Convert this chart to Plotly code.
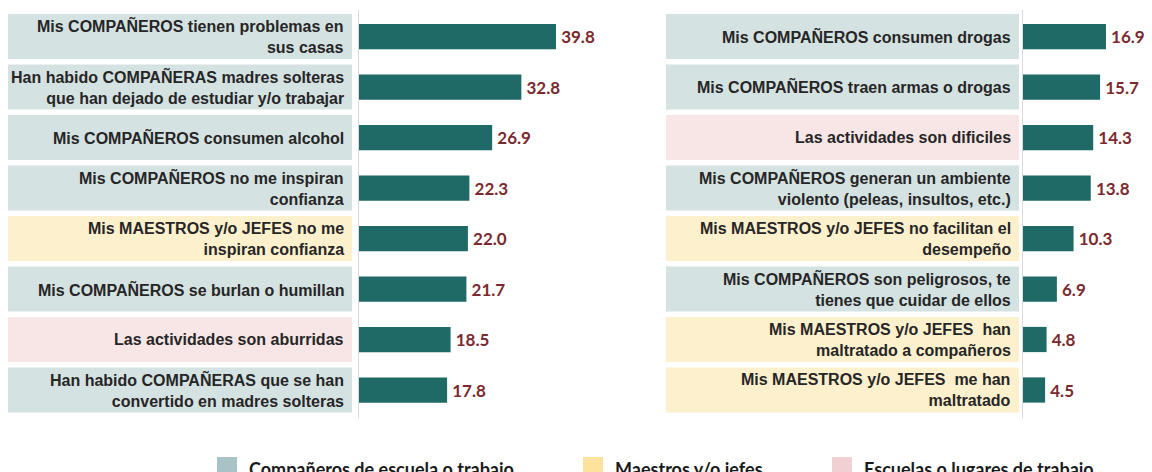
import plotly.graph_objects as go

# page body adds an 8px offset; figure is sized to fit the window
OFF = 8
W, H = 1152 - OFF, 472 - OFF

# ---- data ----
left_labels = [
    "Mis COMPAÑEROS tienen problemas en<br>sus casas",
    "Han habido COMPAÑERAS madres solteras<br>que han dejado de estudiar y/o trabajar",
    "Mis COMPAÑEROS consumen alcohol",
    "Mis COMPAÑEROS no me inspiran<br>confianza",
    "Mis MAESTROS y/o JEFES no me<br>inspiran confianza",
    "Mis COMPAÑEROS se burlan o humillan",
    "Las actividades son aburridas",
    "Han habido COMPAÑERAS que se han<br>convertido en madres solteras",
]
left_values = [39.8, 32.8, 26.9, 22.3, 22.0, 21.7, 18.5, 17.8]
left_groups = ["c", "c", "c", "c", "m", "c", "e", "c"]

right_labels = [
    "Mis COMPAÑEROS consumen drogas",
    "Mis COMPAÑEROS traen armas o drogas",
    "Las actividades son dificiles",
    "Mis COMPAÑEROS generan un ambiente<br>violento (peleas, insultos, etc.)",
    "Mis MAESTROS y/o JEFES no facilitan el<br>desempeño",
    "Mis COMPAÑEROS son peligrosos, te<br>tienes que cuidar de ellos",
    "Mis MAESTROS y/o JEFES  han<br>maltratado a compañeros",
    "Mis MAESTROS y/o JEFES  me han<br>maltratado",
]
right_values = [16.9, 15.7, 14.3, 13.8, 10.3, 6.9, 4.8, 4.5]
right_groups = ["c", "c", "e", "c", "m", "c", "m", "m"]

legend_keys = ["c", "m", "e"]
legend_names = ["Compañeros de escuela o trabajo", "Maestros y/o jefes", "Escuelas o lugares de trabajo"]

# ---- styles ----
BAR = "#1F6A66"
VAL = "#7A2A2E"
BOX = {"c": "#D5E2E2", "m": "#FDF0CD", "e": "#F8E6E7"}
LEG = {"c": "#A8C3C5", "m": "#FCE29C", "e": "#F0D0D3"}

def px(x):
    # screen pixel -> paper fraction
    return (x - OFF) / W

def py(y):
    return 1 - (y - OFF) / H

ydom = [py(418), py(10)]
yrange = [(418 - 36.5) / 50.5, (10 - 36.5) / 50.5]

fig = go.Figure()

val_font = dict(family="Lato", size=17, color=VAL, weight="bold")

fig.add_trace(go.Bar(
    x=left_values, y=list(range(len(left_values))), orientation="h",
    marker=dict(color=BAR, line=dict(width=0)), width=0.5,
    text=[f"\u2009{v:.1f}" for v in left_values], textposition="outside",
    textfont=val_font, cliponaxis=False, xaxis="x", yaxis="y", showlegend=False,
))
fig.add_trace(go.Bar(
    x=right_values, y=list(range(len(right_values))), orientation="h",
    marker=dict(color=BAR, line=dict(width=0)), width=0.5,
    text=[f"\u2009{v:.1f}" for v in right_values], textposition="outside",
    textfont=val_font, cliponaxis=False, xaxis="x2", yaxis="y2", showlegend=False,
))

shapes = []
annotations = []

def add_panel(labels, groups, yref, bx0, bx1, tx):
    for i, (lab, g) in enumerate(zip(labels, groups)):
        shapes.append(dict(type="rect", xref="paper", yref=yref,
                           x0=px(bx0), x1=px(bx1), y0=i - 0.445, y1=i + 0.445,
                           fillcolor=BOX[g], line=dict(width=0), layer="below"))
        annotations.append(dict(xref="paper", yref=yref, x=px(tx), y=i,
                                text=lab, showarrow=False, xanchor="right",
                                yanchor="middle", align="right",
                                font=dict(family="Liberation Sans", size=16,
                                          color="#262626", weight="bold")))

add_panel(left_labels, left_groups, "y", 8, 352, 346)
add_panel(right_labels, right_groups, "y2", 666, 1019, 1013)

leg_x = [217, 583, 832]
for k, name, x in zip(legend_keys, legend_names, leg_x):
    shapes.append(dict(type="rect", xref="paper", yref="paper",
                       x0=px(x), x1=px(x + 20), y0=py(480), y1=py(457),
                       fillcolor=LEG[k], line=dict(width=0)))
    annotations.append(dict(xref="paper", yref="paper", x=px(x + 30), y=py(469),
                            text=name, showarrow=False, xanchor="left",
                            yanchor="middle",
                            font=dict(family="Lato", size=18, color="#1A1A1A",
                                      weight="bold")))

axis_common = dict(showgrid=False, zeroline=False, showticklabels=False, ticks="",
                   fixedrange=True)

fig.update_layout(
    width=W, height=H,
    margin=dict(l=0, r=0, t=0, b=0),
    paper_bgcolor="white", plot_bgcolor="rgba(0,0,0,0)",
    xaxis=dict(domain=[px(359), px(620)], range=[0, (620 - 359) / 4.95], **axis_common),
    yaxis=dict(domain=ydom, range=yrange, anchor="x", showline=True,
               linecolor="#DADADA", linewidth=1, **axis_common),
    xaxis2=dict(domain=[px(1023), 1], range=[0, (1152 - 1023) / 4.91], **axis_common),
    yaxis2=dict(domain=ydom, range=yrange, anchor="x2", showline=True,
                linecolor="#DADADA", linewidth=1, **axis_common),
    shapes=shapes, annotations=annotations,
    showlegend=False,
)

fig.write_html("out.html")
